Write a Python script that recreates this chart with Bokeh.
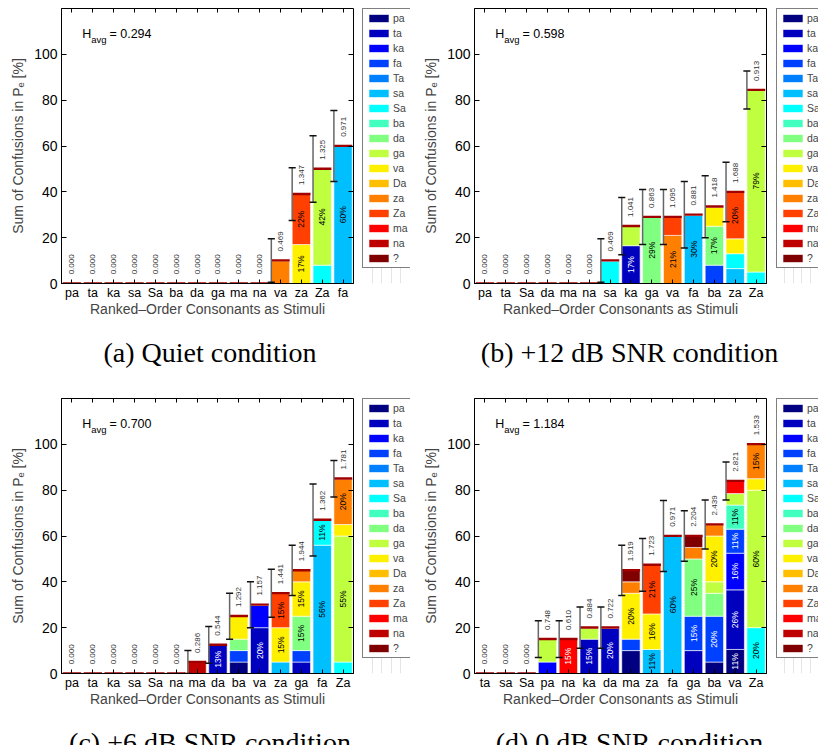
import math
from bokeh.plotting import figure
from bokeh.models import (Range1d, FixedTicker, LinearAxis, Legend, LegendItem,
                          Label, ColumnDataSource, Div)
from bokeh.layouts import column, row
from bokeh.embed import file_html
from bokeh.resources import INLINE
from bokeh.core.properties import value

# ---------------- data ----------------
consonants = ["pa", "ta", "ka", "fa", "Ta", "sa", "Sa", "ba", "da", "ga",
              "va", "Da", "za", "Za", "ma", "na", "?"]
jet17 = ["#000080", "#0000BF", "#0000FF", "#0040FF", "#0080FF", "#00BFFF",
         "#00FFFF", "#40FFBF", "#80FF80", "#BFFF40", "#FFF000", "#FFBF00",
         "#FF8000", "#FF4000", "#FF0000", "#BF0000", "#800000"]
y_ticks = [0, 20, 40, 60, 80, 100]

# (a) Quiet
stim_a = ["pa", "ta", "ka", "sa", "Sa", "ba", "da", "ga", "ma", "na", "va", "za", "Za", "fa"]
stack_a = [[]] * 10 + [
    [("za", 10)],
    [("va", 17), ("Za", 22)],
    [("Sa", 8), ("ga", 42)],
    [("sa", 60)],
]
ent_a = [0.000] * 10 + [0.469, 1.347, 1.325, 0.971]
err_a = [0] * 10 + [9.5, 11.5, 14.5, 15.5]
havg_a = 0.294

# (b) +12 dB
stim_b = ["pa", "ta", "Sa", "da", "ma", "na", "sa", "ka", "ga", "va", "fa", "ba", "za", "Za"]
stack_b = [[]] * 6 + [
    [("Sa", 10)],
    [("ta", 16.5), ("ga", 8.5)],
    [("da", 29)],
    [("za", 21), ("Za", 8)],
    [("sa", 30)],
    [("fa", 8), ("da", 17), ("va", 8.5)],
    [("sa", 6.5), ("Sa", 6.5), ("va", 6.5), ("Za", 20.4)],
    [("Sa", 5), ("ga", 79.4)],
]
ent_b = [0.000] * 6 + [0.469, 1.041, 0.863, 1.095, 0.881, 1.418, 1.688, 0.913]
err_b = [0] * 6 + [9.5, 12.5, 12, 12, 14.5, 13.5, 13, 8.3]
havg_b = 0.598

# (c) +6 dB
stim_c = ["pa", "ta", "ka", "sa", "Sa", "na", "ma", "da", "ba", "va", "za", "ga", "fa", "Za"]
stack_c = [[]] * 6 + [
    [("na", 5)],
    [("ta", 12.5)],
    [("pa", 5), ("fa", 5), ("da", 5), ("va", 10)],
    [("ta", 20), ("ka", 10)],
    [("sa", 5), ("va", 15), ("Za", 15)],
    [("ta", 5), ("fa", 5), ("da", 15), ("va", 15), ("za", 5)],
    [("sa", 56), ("Sa", 11)],
    [("Sa", 5), ("ga", 55), ("va", 5), ("za", 20)],
]
ent_c = [0.000] * 6 + [0.286, 0.544, 1.292, 1.157, 1.441, 1.944, 1.362, 1.781]
err_c = [0] * 6 + [5, 8, 10, 10, 10.5, 11, 15.7, 8]
havg_c = 0.700

# (d) 0 dB
stim_d = ["ta", "sa", "Sa", "pa", "na", "ka", "da", "ma", "za", "fa", "ga", "ba", "va", "Za"]
stack_d = [[]] * 3 + [
    [("ka", 5), ("ga", 10)],
    [("ma", 15)],
    [("ta", 15), ("ga", 5)],
    [("ta", 20)],
    [("pa", 10), ("fa", 5), ("va", 20), ("za", 5), ("?", 5)],
    [("sa", 10.5), ("va", 15.5), ("Za", 21.4)],
    [("sa", 60)],
    [("ta", 10), ("fa", 15), ("da", 25), ("za", 5), ("?", 5)],
    [("pa", 5), ("fa", 20), ("da", 10), ("ga", 5), ("va", 20), ("za", 5)],
    [("pa", 10.5), ("ta", 26), ("ka", 16), ("fa", 10.5), ("ba", 10.5), ("ga", 5), ("ma", 5.5)],
    [("Sa", 20), ("ga", 60), ("va", 5), ("za", 15)],
]
ent_d = [0.000] * 3 + [0.748, 0.610, 0.884, 0.722, 1.919, 1.723, 0.971, 2.204, 2.439, 2.821, 1.533]
err_d = [0] * 3 + [8, 8, 9, 9, 11, 11.5, 15.5, 11, 10.7, 8.3, 0]
havg_d = 1.184

captions = ["(a) Quiet condition", "(b) +12 dB SNR condition",
            "(c) +6 dB SNR condition", "(d) 0 dB SNR condition"]

SANS = "Liberation Sans"
SERIF = "Liberation Serif"
DARK_TEXT = {"pa", "ta", "ka", "fa", "ma", "na", "?"}
PLOT_H = 319   # 6 top + 277 frame + 36 bottom


def make_panel(stim, stacks, ent, err, havg, left, right):
    width = left + 292 + right
    p = figure(width=width, height=PLOT_H,
               x_range=Range1d(0.5, 14.5), y_range=Range1d(0, 120),
               output_backend="svg", toolbar_location=None,
               min_border_left=left, min_border_right=right,
               min_border_top=6, min_border_bottom=PLOT_H - 6 - 277)
    p.grid.visible = False
    p.outline_line_color = "black"
    p.outline_line_width = 1
    p.background_fill_color = "white"
    p.border_fill_color = "white"

    xs = list(range(1, len(stim) + 1))

    xa = p.xaxis[0]
    xa.ticker = FixedTicker(ticks=xs)
    xa.major_label_overrides = {x: s for x, s in zip(xs, stim)}
    xa.major_tick_in = 4
    xa.major_tick_out = 0
    xa.minor_tick_line_color = None
    xa.major_label_text_font = SANS
    xa.major_label_text_font_size = "12.5px"
    xa.major_label_text_color = "black"
    xa.major_label_standoff = 2
    xa.axis_label = "Ranked\u2013Order Consonants as Stimuli"
    xa.axis_label_text_font = SANS
    xa.axis_label_text_font_size = "14px"
    xa.axis_label_text_font_style = "normal"
    xa.axis_label_standoff = -2

    ya = p.yaxis[0]
    ya.ticker = FixedTicker(ticks=y_ticks)
    ya.major_tick_in = 5
    ya.major_tick_out = 0
    ya.minor_tick_line_color = None
    ya.major_label_text_font = SANS
    ya.major_label_text_font_size = "14px"
    ya.major_label_text_color = "black"
    ya.major_label_standoff = 4
    ya.axis_label = "Sum of Confusions in P\u2091 [%]"
    ya.axis_label_text_font = SANS
    ya.axis_label_text_font_size = "14px"
    ya.axis_label_text_font_style = "normal"
    ya.axis_label_standoff = 5

    ra = LinearAxis(ticker=FixedTicker(ticks=y_ticks), major_tick_in=5, major_tick_out=0,
                    major_label_text_font_size="0px", major_label_text_color=None,
                    major_label_standoff=0, axis_line_color=None, minor_tick_line_color=None)
    p.add_layout(ra, "right")
    ta = LinearAxis(ticker=FixedTicker(ticks=xs), major_tick_in=4, major_tick_out=0,
                    major_label_text_font_size="0px", major_label_text_color=None,
                    major_label_standoff=0, axis_line_color=None, minor_tick_line_color=None)
    p.add_layout(ta, "above")

    seg = {c: dict(x=[], bottom=[], top=[]) for c in consonants}
    lab = dict(x=[], y=[], text=[], color=[])
    totals = []
    for i, st in enumerate(stacks):
        base = 0.0
        present = dict(st)
        for c, v in st:
            seg[c]["x"].append(xs[i])
            seg[c]["bottom"].append(base)
            seg[c]["top"].append(base + v)
            pct = int(v + 0.5)
            if pct >= 11:
                lab["x"].append(xs[i])
                lab["y"].append(base + v / 2)
                lab["text"].append(f"{pct}%")
                lab["color"].append("white" if c in DARK_TEXT else "black")
            base += v
        for c in consonants:
            if c not in present:
                seg[c]["x"].append(xs[i])
                seg[c]["bottom"].append(base)
                seg[c]["top"].append(base)
        totals.append(base)

    sources = {}
    for c, col in zip(consonants, jet17):
        sources[c] = ColumnDataSource(seg[c])
        p.vbar(x="x", bottom="bottom", top="top", width=0.88, source=sources[c],
               fill_color=col, line_color="white", line_width=0.6)

    # dark-red total line
    p.vbar(x=xs, bottom=[t - 0.45 for t in totals], top=[t + 0.6 for t in totals],
           width=0.88, fill_color="#A00000", line_color=None)

    # error bars at the left edge of each bar
    ex, lo, hi = [], [], []
    for x, t, e in zip(xs, totals, err):
        if e > 0:
            ex.append(x - 0.44)
            lo.append(t - e)
            hi.append(t + e)
    p.segment(x0=ex, y0=lo, x1=ex, y1=hi, line_color="#666666", line_width=1.5)
    p.segment(x0=[x - 0.17 for x in ex], y0=lo, x1=[x + 0.17 for x in ex], y1=lo,
              line_color="#111111", line_width=1.5)
    p.segment(x0=[x - 0.17 for x in ex], y0=hi, x1=[x + 0.17 for x in ex], y1=hi,
              line_color="#111111", line_width=1.5)

    p.text(x=xs, y=[t + 4 for t in totals], text=[f"{v:.3f}" for v in ent],
           angle=math.pi / 2, text_align="left", text_baseline="middle",
           text_font=value(SANS), text_font_size="8px", text_color="#333333")

    p.text(x="x", y="y", text="text", text_color="color", source=ColumnDataSource(lab),
           angle=math.pi / 2, text_align="center", text_baseline="middle",
           text_font=value(SANS), text_font_size="8.5px")

    p.add_layout(Label(x=1.5, y=108.8, text="H", text_font=SANS, text_font_size="12.5px",
                       text_baseline="alphabetic", text_color="black"))
    p.add_layout(Label(x=1.93, y=106.6, text="avg", text_font=SANS, text_font_size="9.5px",
                       text_baseline="alphabetic", text_color="black"))
    p.add_layout(Label(x=2.8, y=108.8, text=f"= {havg:.3f}", text_font=SANS,
                       text_font_size="12.5px", text_baseline="alphabetic", text_color="black"))
    return p, sources


def make_legend(sources, width):
    lf = figure(width=width, height=PLOT_H, x_range=Range1d(-200, -199),
                y_range=Range1d(-200, -199), output_backend="svg", toolbar_location=None,
                x_axis_location=None, y_axis_location=None,
                min_border_left=0, min_border_right=0, min_border_top=8, min_border_bottom=0)
    lf.outline_line_color = None
    lf.background_fill_color = "white"
    lf.border_fill_color = "white"
    items = []
    for c, col in zip(consonants, jet17):
        r = lf.vbar(x="x", bottom="bottom", top="top", width=0.88, source=sources[c],
                    fill_color=col, line_color="white", line_width=0.6)
        items.append(LegendItem(label=c, renderers=[r]))
    legend = Legend(items=items, location="top_left", orientation="vertical",
                    glyph_width=25, glyph_height=10, label_height=10, label_width=10,
                    spacing=3, padding=3, label_standoff=2, margin=0,
                    border_line_color="black", border_line_width=1.5,
                    label_text_font=SANS, label_text_font_size="10.5px",
                    background_fill_color="white", background_fill_alpha=1.0)
    lf.add_layout(legend)
    return lf


def make_caption(text, width, height):
    html = ("<div style=\"width:%dpx;text-align:center;font-family:'Liberation Serif',serif;"
            "font-size:28px;line-height:28px;padding-top:15px;color:black;\">%s</div>"
            % (width, text))
    return Div(text=html, width=width, height=height)


pa_, sa_ = make_panel(stim_a, stack_a, ent_a, err_a, havg_a, 61, 9)
pb_, sb_ = make_panel(stim_b, stack_b, ent_b, err_b, havg_b, 64, 10)
pc_, sc_ = make_panel(stim_c, stack_c, ent_c, err_c, havg_c, 61, 9)
pd_, sd_ = make_panel(stim_d, stack_d, ent_d, err_d, havg_d, 64, 10)

la_ = make_legend(sa_, 48)
lb_ = make_legend(sb_, 42)
lc_ = make_legend(sc_, 48)
ld_ = make_legend(sd_, 42)

layout = column(
    row(pa_, la_, pb_, lb_),
    row(make_caption(captions[0], 410, 61), make_caption(captions[1], 409, 61)),
    row(pc_, lc_, pd_, ld_),
    row(make_caption(captions[2], 410, 46), make_caption(captions[3], 409, 46)),
)
open("out.html", "w").write(file_html(layout, INLINE))
